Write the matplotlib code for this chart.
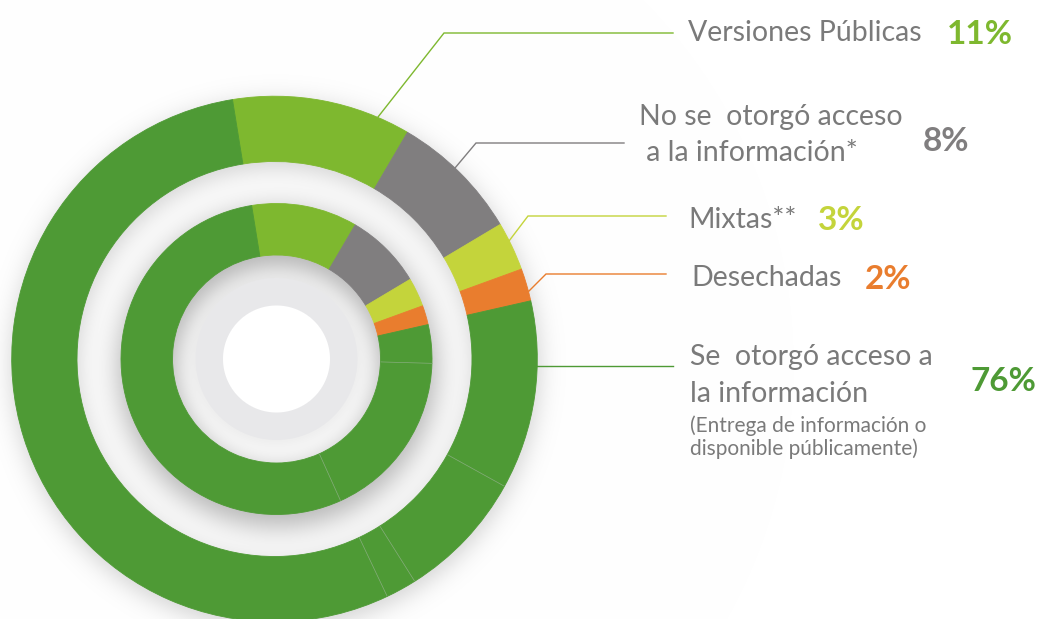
import numpy as np
import matplotlib
matplotlib.use("Agg")
import matplotlib.pyplot as plt

# ---------------- data ----------------
categories = ["Versiones Públicas", "No se otorgó acceso a la información*",
              "Mixtas**", "Desechadas", "Se otorgó acceso a la información"]
shares = [11, 8, 3, 2, 76]
pct_labels = ["11%", "8%", "3%", "2%", "76%"]
# the 76% green block is drawn in sub-pieces separated by faint lines
outer_green_parts = [11.6, 8.0, 1.9, 54.5]
inner_green_parts = [4.0, 17.8, 54.2]
colors = ["#7eb82f", "#807e7f", "#c4d43b", "#e97d2e", "#4e9a35"]
text_gray = "#7a7a7a"

# ---------------- layout ----------------
W, H = 1042, 619
plt.rcParams["font.family"] = ["Lato", "DejaVu Sans"]

fig = plt.figure(figsize=(W / 100, H / 100), dpi=100)
ax = fig.add_axes([0, 0, 1, 1])

def Y(y):
    return H - y

OC = (274.5, 359.0)   # outer ring centre (pixel, y down)
IC = (276.5, 359.0)   # inner ring centre
R_O, R_O_IN = 262.8, 197.5
R_I, R_I_IN = 155.5, 104.0
R_DISK, R_CENTER = 81.0, 53.5
START = 99.2          # degrees, counter-clockwise from +x

# ---------------- background / shadows as an image ----------------
yy, xx = np.mgrid[0:H, 0:W] + 0.5

def sig(z):
    return 1.0 / (1.0 + np.exp(-z))

def cover(r, R):
    return np.clip(R - r + 0.5, 0, 1)

img = np.ones((H, W, 3))
rs = np.hypot(xx - OC[0] - 1, yy - OC[1] - 6)
sh_o = 0.30 * sig((R_O + 2 - rs) / 7) * sig((rs - (R_O_IN - 2)) / 7)
rs = np.hypot(xx - IC[0] - 1, yy - IC[1] - 9)
sh_i = 0.55 * sig((R_I + 3 - rs) / 9) * sig((rs - (R_I_IN - 4)) / 8)
sh = 1 - (1 - sh_o) * (1 - sh_i)
img *= (1 - 0.55 * sh)[..., None]

rd = np.hypot(xx - IC[0], yy - IC[1])
rds = np.hypot(xx - IC[0], yy - IC[1] - 3)
sh_d = 0.12 * sig((R_DISK + 2 - rds) / 4)
img *= (1 - 0.6 * sh_d)[..., None]
c = cover(rd, R_DISK)[..., None]
img = img * (1 - c) + np.array([0.91, 0.91, 0.918]) * c
c = cover(rd, R_CENTER)[..., None]
img = img * (1 - c) + 1.0 * c

ax.imshow(img, extent=(0, W, 0, H), origin="upper", zorder=0,
          interpolation="none")

# ---------------- rings ----------------
outer_vals = shares[:4] + outer_green_parts
outer_cols = colors[:4] + [colors[4]] * len(outer_green_parts)
inner_vals = shares[:4] + inner_green_parts
inner_cols = colors[:4] + [colors[4]] * len(inner_green_parts)

for vals, cols, R, Rin, C in [(outer_vals, outer_cols, R_O, R_O_IN, OC),
                              (inner_vals, inner_cols, R_I, R_I_IN, IC)]:
    wedges, _ = ax.pie(vals, colors=cols, radius=R, center=(C[0], Y(C[1])),
                       startangle=START, counterclock=False, frame=True,
                       wedgeprops=dict(width=R - Rin, linewidth=0.6))
    for w, col in zip(wedges, cols):
        w.set_edgecolor(col)
        w.set_zorder(2)

# faint separators inside the green block
for parts, R, Rin, C in [(outer_green_parts, R_O, R_O_IN, OC),
                         (inner_green_parts, R_I, R_I_IN, IC)]:
    cum = sum(shares[:4]) + np.cumsum(parts[:-1])
    for cv in cum:
        th = np.deg2rad(START - cv / 100 * 360)
        ax.plot([C[0] + Rin * np.cos(th), C[0] + R * np.cos(th)],
                [Y(C[1]) + Rin * np.sin(th), Y(C[1]) + R * np.sin(th)],
                color="#86ad7c", lw=0.5, zorder=3, solid_capstyle="butt")

# ---------------- leader lines ----------------
leaders = [
    [(378, 117), (444, 33), (673, 33)],
    [(455, 168), (476, 143), (624, 143)],
    [(509, 241), (528, 216), (666, 216)],
    [(528, 292), (546, 274), (666, 274)],
    [(537, 366), (673, 366)],
]
for pts, col in zip(leaders, colors):
    ax.plot([p[0] for p in pts], [Y(p[1]) for p in pts], color=col,
            lw=1.0, zorder=4, solid_joinstyle="miter")

# ---------------- texts ----------------
LF = 20.5
SF = 15
PF = 24
pct_pos = [(980, 44), (946, 151), (841, 230), (888, 289), (1003, 391)]

ax.text(688, Y(41), "Versiones Públicas", fontsize=LF, color=text_gray, va="baseline")
ax.text(639, Y(125), "No se  otorgó acceso", fontsize=LF, color=text_gray, va="baseline")
ax.text(639, Y(161), " a la información*", fontsize=LF, color=text_gray, va="baseline")
ax.text(688, Y(228), "Mixtas**", fontsize=LF, color=text_gray, va="baseline")
ax.text(691, Y(286), "Desechadas", fontsize=LF, color=text_gray, va="baseline")
ax.text(690, Y(365), "Se  otorgó acceso a", fontsize=LF, color=text_gray, va="baseline")
ax.text(690, Y(402), "la información", fontsize=LF, color=text_gray, va="baseline")
ax.text(690, Y(432), "(Entrega de información o", fontsize=SF, color=text_gray, va="baseline")
ax.text(690, Y(455), "disponible públicamente)", fontsize=SF, color=text_gray, va="baseline")

for lab, (px, py), col in zip(pct_labels, pct_pos, colors):
    ax.text(px, Y(py), lab, fontsize=PF, fontweight="bold", color=col,
            ha="center", va="baseline")

ax.set_xlim(0, W)
ax.set_ylim(0, H)
ax.set_aspect("auto")
ax.axis("off")

fig.savefig("out.png", dpi=100, facecolor="white")
